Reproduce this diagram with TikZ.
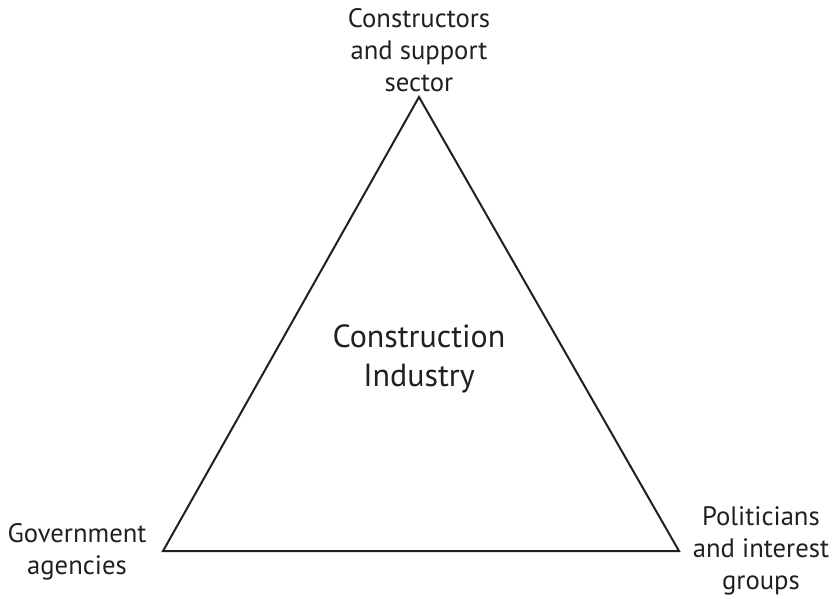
\documentclass[tikz,border=0pt]{standalone}
\usepackage{fontspec}
\setmainfont{PT Sans}
\definecolor{ink}{HTML}{231F20}
\begin{document}
\begin{tikzpicture}[x=0.75pt,y=-0.75pt,
  lbl/.style={inner sep=0pt,align=center,text=ink,font=\fontsize{20}{24}\selectfont},
  big/.style={inner sep=0pt,align=center,text=ink,font=\fontsize{24}{29}\selectfont},
  edge/.style={draw=ink,line width=1.5pt,line join=miter}]
\useasboundingbox (0,0) rectangle (832,599);
\coordinate (top) at (419,97);
\coordinate (bl) at (163,551);
\coordinate (br) at (679,551);
\draw[edge] (top) -- (bl) -- (br) -- cycle;
\node[big] (ci) at (419,359) {Construction\\Industry};
\node[lbl] (cs) at (419,50) {Constructors\\and support\\sector};
\node[lbl] (ga) at (77,552) {Government\\agencies};
\node[lbl] (pi) at (761,551) {Politicians\\and interest\\groups};
\end{tikzpicture}
\end{document}
